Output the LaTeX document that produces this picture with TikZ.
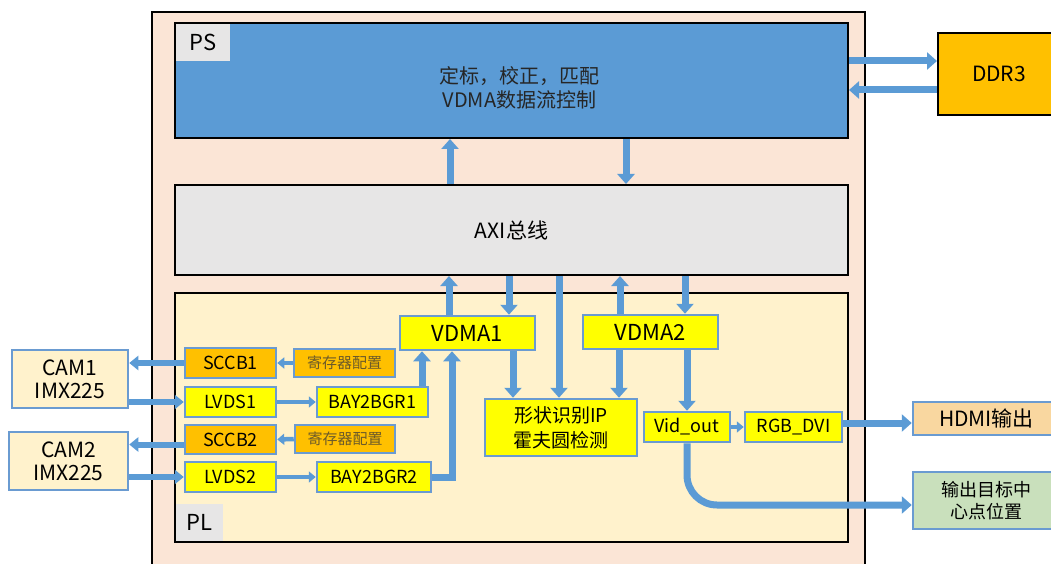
\documentclass[tikz,border=0pt]{standalone}
\usepackage{fontspec}
\setmainfont{Noto Sans CJK SC}
\usetikzlibrary{arrows.meta}
\definecolor{psblue}{HTML}{5B9BD5}
\definecolor{edgeblue}{HTML}{6A9BD1}
\definecolor{outerpink}{HTML}{FBE5D6}
\definecolor{plcream}{HTML}{FFF2CC}
\definecolor{labelgray}{HTML}{E7E6E6}
\definecolor{boxyellow}{HTML}{FFFF00}
\definecolor{boxorange}{HTML}{FFC000}
\definecolor{hdmiorange}{HTML}{F9D7A0}
\definecolor{targetgreen}{HTML}{C9E0BC}
\definecolor{regtext}{HTML}{6B5A2A}

\begin{document}
\begin{tikzpicture}[x=1pt,y=-1pt,>={Triangle[width=17pt,length=10pt]},
  frame/.style={draw=black,line width=2pt,inner sep=0pt},
  box/.style={draw=edgeblue,line width=2.5pt,align=center,inner sep=0pt,font=\fontsize{18}{21}\selectfont},
  tag/.style={fill=labelgray,inner sep=0pt,font=\fontsize{22}{26}\selectfont},
  flow/.style={draw=psblue,line width=7pt},
  camflow/.style={draw=psblue,line width=6pt,>={Triangle[width=14pt,length=9pt]}},
  thinflow/.style={draw=psblue,line width=4.5pt,>={Triangle[width=11pt,length=7pt]}}]
\clip (0,0) rectangle (1051,564);
\fill[white] (0,0) rectangle (1051,564);
\draw[frame,fill=outerpink] (152,12) rectangle (865,580);

\node[name=ps, frame, fill=psblue, minimum width=673pt, minimum height=115pt] at (511.5,80.5) {};
\node[name=ps_tag, tag, anchor=north west, minimum width=54pt, minimum height=37pt] at (176,24) {PS};
\node[name=ps_text, align=center, text=black!85, font=\fontsize{20}{24}\selectfont] at ([xshift=8pt,yshift=-7.5pt]ps.center) {定标，校正，匹配\\VDMA数据流控制};
\node[name=ddr, frame, fill=boxorange, minimum width=122pt, minimum height=82pt, font=\fontsize{21}{24}\selectfont] at (999,74) {DDR3};
\node[name=axi, frame, fill=labelgray, minimum width=673pt, minimum height=90pt, font=\fontsize{21}{24}\selectfont] at (511.5,230) {AXI总线};
\node[name=pl, frame, fill=plcream, minimum width=673pt, minimum height=249pt] at (511.5,417.5) {};
\node[name=pl_tag, tag, anchor=south west, minimum width=47pt, minimum height=37pt] at (176,541) {PL};

\node[name=cam1, box, fill=plcream, minimum width=116pt, minimum height=58pt, font=\fontsize{21}{23}\selectfont] at (70,379) {CAM1\\IMX225};
\node[name=cam2, box, fill=plcream, minimum width=119pt, minimum height=58pt, font=\fontsize{21}{23}\selectfont] at (68.5,461) {CAM2\\IMX225};
\node[name=sccb1, box, fill=boxorange, minimum width=91pt, minimum height=30pt] at (230.5,363) {SCCB1};
\node[name=reg1, box, fill=boxorange, minimum width=101pt, minimum height=28pt, text=regtext, font=\fontsize{15}{18}\selectfont] at (344.5,363) {寄存器配置};
\node[name=lvds1, box, fill=boxyellow, minimum width=91pt, minimum height=30pt] at (230.5,402) {LVDS1};
\node[name=bay1, box, fill=boxyellow, minimum width=111pt, minimum height=30pt] at (372.5,402) {BAY2BGR1};
\node[name=sccb2, box, fill=boxorange, minimum width=91pt, minimum height=29pt] at (230.5,439.5) {SCCB2};
\node[name=reg2, box, fill=boxorange, minimum width=100pt, minimum height=28pt, text=regtext, font=\fontsize{15}{18}\selectfont] at (345,439) {寄存器配置};
\node[name=lvds2, box, fill=boxyellow, minimum width=91pt, minimum height=30pt] at (230.5,477) {LVDS2};
\node[name=bay2, box, fill=boxyellow, minimum width=114pt, minimum height=30pt] at (374,477) {BAY2BGR2};
\node[name=vdma1, box, fill=boxyellow, minimum width=135pt, minimum height=34pt, font=\fontsize{22}{24}\selectfont] at (467.5,333) {VDMA1};
\node[name=vdma2, box, fill=boxyellow, minimum width=135pt, minimum height=34pt, font=\fontsize{22}{24}\selectfont] at (650.5,332) {VDMA2};
\node[name=shape, box, fill=boxyellow, minimum width=152pt, minimum height=57pt, font=\fontsize{19}{25}\selectfont] at (561,427.5) {形状识别IP\\霍夫圆检测};
\node[name=vid_out, box, fill=boxyellow, minimum width=86pt, minimum height=30pt] at (687,427) {Vid\_out};
\node[name=rgb_dvi, box, fill=boxyellow, minimum width=97pt, minimum height=30pt] at (793.5,427) {RGB\_DVI};
\node[name=hdmi, box, fill=hdmiorange, minimum width=147pt, minimum height=33pt, font=\fontsize{21}{24}\selectfont] at (986.5,418.5) {HDMI输出};
\node[name=target, box, fill=targetgreen, minimum width=147pt, minimum height=57pt, font=\fontsize{18}{22}\selectfont] at (986.5,500.5) {输出目标中\\心点位置};

\draw[flow,->] ([yshift=19.5pt]ps.east) -- ([yshift=19.5pt]ps.east -| ddr.west);
\draw[flow,->] ([yshift=-9.5pt]ps.east -| ddr.west) -- ([yshift=-9.5pt]ps.east);
\draw[flow,->] ([xshift=-61.5pt]axi.north) -- ([xshift=-61.5pt]axi.north |- ps.south);
\draw[flow,->] ([xshift=114.5pt]axi.north |- ps.south) -- ([xshift=114.5pt]axi.north);
\draw[flow,->] ([xshift=-18.5pt]vdma1.north) -- ([xshift=-18.5pt]vdma1.north |- axi.south);
\draw[flow,->] ([xshift=41.5pt]vdma1.north |- axi.south) -- ([xshift=41.5pt]vdma1.north);
\draw[flow,->] ([xshift=-2pt]shape.north |- axi.south) -- ([xshift=-2pt]shape.north);
\draw[flow,->] ([xshift=-30.5pt]vdma2.north) -- ([xshift=-30.5pt]vdma2.north |- axi.south);
\draw[flow,->] ([xshift=34.5pt]vdma2.north |- axi.south) -- ([xshift=34.5pt]vdma2.north);
\draw[flow,->] ([xshift=45.5pt]vdma1.south) -- ([xshift=45.5pt]vdma1.south |- shape.north);
\draw[flow,->] ([xshift=-31.5pt]vdma2.south) -- ([xshift=-31.5pt]vdma2.south |- shape.north);
\draw[flow,->] (vid_out.north |- vdma2.south) -- (vid_out.north);
\draw[flow,->] ([xshift=49.5pt]bay1.north) -- ([xshift=49.5pt]bay1.north |- vdma1.south);
\draw[flow,->] (bay2.east) -| ([xshift=-15.5pt]vdma1.south);
\draw[thinflow,->] (vid_out.east) -- (rgb_dvi.west);
\draw[flow,->] ([yshift=4pt]rgb_dvi.east) -- ([yshift=4pt]rgb_dvi.east -| hdmi.west);
\draw[flow,->,rounded corners=30pt] (vid_out.south) |- ([yshift=-4.5pt]target.west);

\draw[camflow,->] (sccb1.west) -- (sccb1.west -| cam1.east);
\draw[camflow,->] (lvds1.west -| cam1.east) -- (lvds1.west);
\draw[camflow,->] ([yshift=-5pt]sccb2.west) -- ([yshift=-5pt]sccb2.west -| cam2.east);
\draw[camflow,->] (lvds2.west -| cam2.east) -- (lvds2.west);
\draw[thinflow,->] (reg1.west) -- (sccb1.east);
\draw[thinflow,->] (reg2.west) -- (sccb2.east);
\draw[thinflow,->] (lvds1.east) -- (bay1.west);
\draw[thinflow,->] (lvds2.east) -- (bay2.west);

\end{tikzpicture}
\end{document}
